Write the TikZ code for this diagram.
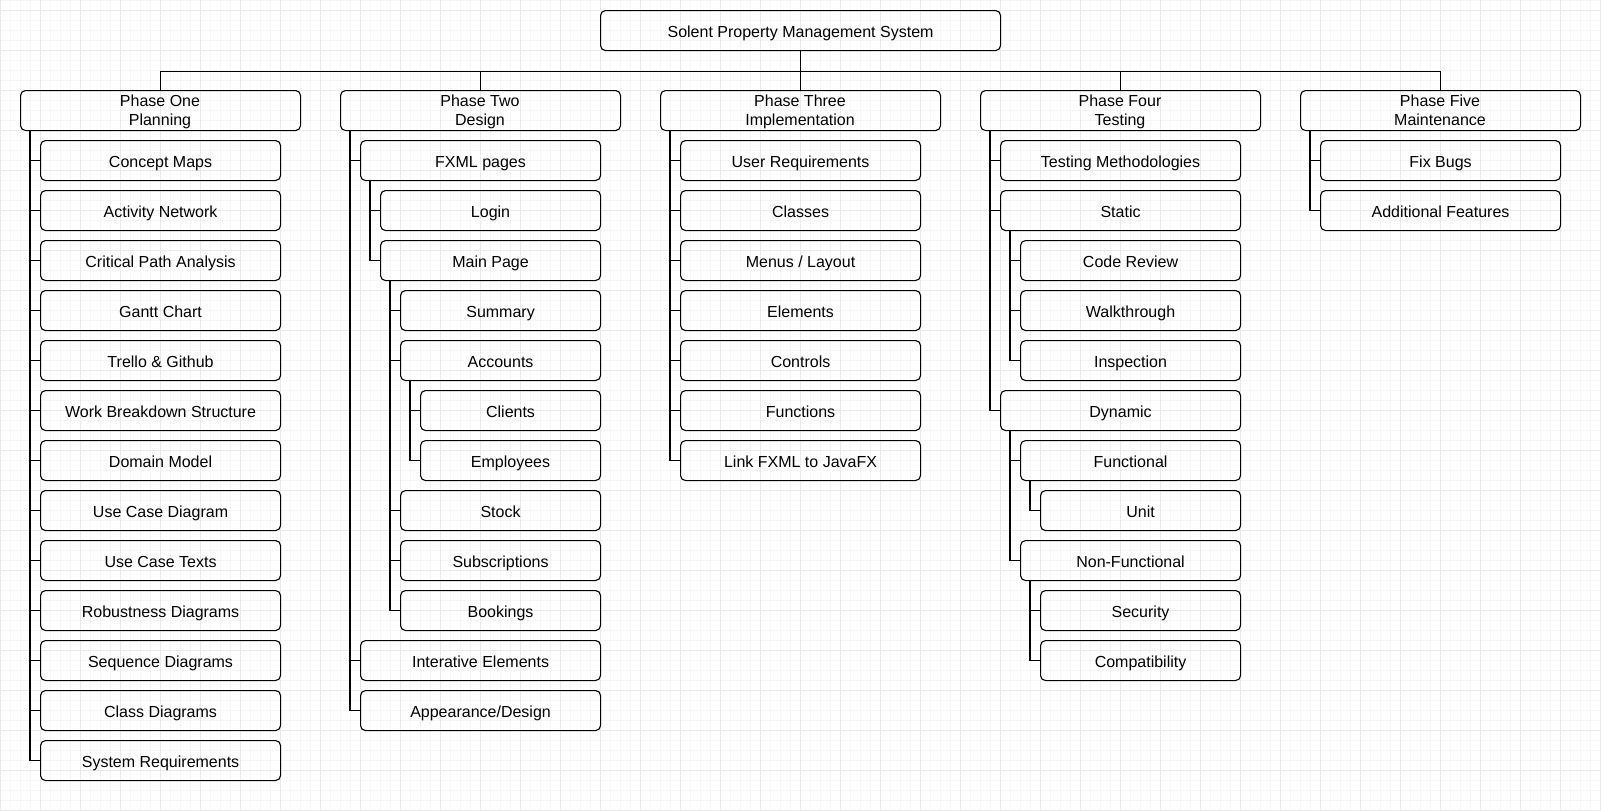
\documentclass[tikz,border=0pt]{standalone}
\usepackage{fontspec}
\setmainfont{Liberation Sans}
\definecolor{gridminor}{HTML}{F6F6F6}
\definecolor{gridmajor}{HTML}{EAEAEA}
\tikzset{
  box/.style={draw=black, rounded corners=5pt, line width=1.1pt, inner sep=0pt,
    minimum height=40pt, anchor=north west, font=\fontsize{16}{19}\selectfont,
    text height=13.5pt, text depth=0pt},
  lbl/.style={inner sep=0pt, anchor=base, font=\fontsize{16}{19}\selectfont},
  conn/.style={draw=black, line width=1.1pt},
  gminor/.style={draw=gridminor, line width=1pt},
  gmajor/.style={draw=gridmajor, line width=1pt}
}
\newcommand\wbs[6]{%
  \pgfmathsetmacro\wx{#3+20*#4}%
  \pgfmathsetmacro\ww{260-20*#4}%
  \pgfmathsetmacro\wy{140+50*#5}%
  \node[box, minimum width=\ww pt] (#1) at (\wx,\wy) {#6};
  \draw[conn] ([xshift=10pt]#2.south west) |- (#1.west);
}
\newcommand\wbsphase[4]{%
  \node[box, minimum width=280pt] (#1) at (#2,90) {};
  \draw[conn] (root.south) -- ++(0,20) -| (#1.north);
  \node[lbl] (#1a) at (#2+140,106.8) {#3};
  \node[lbl] (#1b) at (#2+140,125.8) {#4};
}
\begin{document}
\begin{tikzpicture}[x=1pt,y=-1pt]
\useasboundingbox (0,0) rectangle (1601,811);
\fill[white] (0,0) rectangle (1601,811);
\foreach \x in {0,10,...,1600} \draw[gminor] (\x,0) -- (\x,811);
\foreach \y in {0,10,...,810} \draw[gminor] (0,\y) -- (1601,\y);
\foreach \x in {0,40,...,1600} \draw[gmajor] (\x,0) -- (\x,811);
\foreach \y in {10,50,...,810} \draw[gmajor] (0,\y) -- (1601,\y);

\node[box, minimum width=400pt] (root) at (600,10) {Solent Property Management System};

\wbsphase{p1}{20}{Phase One}{Planning}
\wbsphase{p2}{340}{Phase Two}{Design}
\wbsphase{p3}{660}{Phase Three}{Implementation}
\wbsphase{p4}{980}{Phase Four}{Testing}
\wbsphase{p5}{1300}{Phase Five}{Maintenance}

% Phase One
\wbs{a0}{p1}{20}{1}{0}{Concept Maps}
\wbs{a1}{p1}{20}{1}{1}{Activity Network}
\wbs{a2}{p1}{20}{1}{2}{Critical Path Analysis}
\wbs{a3}{p1}{20}{1}{3}{Gantt Chart}
\wbs{a4}{p1}{20}{1}{4}{Trello \& Github}
\wbs{a5}{p1}{20}{1}{5}{Work Breakdown Structure}
\wbs{a6}{p1}{20}{1}{6}{Domain Model}
\wbs{a7}{p1}{20}{1}{7}{Use Case Diagram}
\wbs{a8}{p1}{20}{1}{8}{Use Case Texts}
\wbs{a9}{p1}{20}{1}{9}{Robustness Diagrams}
\wbs{a10}{p1}{20}{1}{10}{Sequence Diagrams}
\wbs{a11}{p1}{20}{1}{11}{Class Diagrams}
\wbs{a12}{p1}{20}{1}{12}{System Requirements}

% Phase Two
\wbs{b0}{p2}{340}{1}{0}{FXML pages}
\wbs{b1}{b0}{340}{2}{1}{Login}
\wbs{b2}{b0}{340}{2}{2}{Main Page}
\wbs{b3}{b2}{340}{3}{3}{Summary}
\wbs{b4}{b2}{340}{3}{4}{Accounts}
\wbs{b5}{b4}{340}{4}{5}{Clients}
\wbs{b6}{b4}{340}{4}{6}{Employees}
\wbs{b7}{b2}{340}{3}{7}{Stock}
\wbs{b8}{b2}{340}{3}{8}{Subscriptions}
\wbs{b9}{b2}{340}{3}{9}{Bookings}
\wbs{b10}{p2}{340}{1}{10}{Interative Elements}
\wbs{b11}{p2}{340}{1}{11}{Appearance/Design}

% Phase Three
\wbs{c0}{p3}{660}{1}{0}{User Requirements}
\wbs{c1}{p3}{660}{1}{1}{Classes}
\wbs{c2}{p3}{660}{1}{2}{Menus / Layout}
\wbs{c3}{p3}{660}{1}{3}{Elements}
\wbs{c4}{p3}{660}{1}{4}{Controls}
\wbs{c5}{p3}{660}{1}{5}{Functions}
\wbs{c6}{p3}{660}{1}{6}{Link FXML to JavaFX}

% Phase Four
\wbs{d0}{p4}{980}{1}{0}{Testing Methodologies}
\wbs{d1}{p4}{980}{1}{1}{Static}
\wbs{d2}{d1}{980}{2}{2}{Code Review}
\wbs{d3}{d1}{980}{2}{3}{Walkthrough}
\wbs{d4}{d1}{980}{2}{4}{Inspection}
\wbs{d5}{p4}{980}{1}{5}{Dynamic}
\wbs{d6}{d5}{980}{2}{6}{Functional}
\wbs{d7}{d6}{980}{3}{7}{Unit}
\wbs{d8}{d5}{980}{2}{8}{Non-Functional}
\wbs{d9}{d8}{980}{3}{9}{Security}
\wbs{d10}{d8}{980}{3}{10}{Compatibility}

% Phase Five
\wbs{e0}{p5}{1300}{1}{0}{Fix Bugs}
\wbs{e1}{p5}{1300}{1}{1}{Additional Features}
\end{tikzpicture}
\end{document}
